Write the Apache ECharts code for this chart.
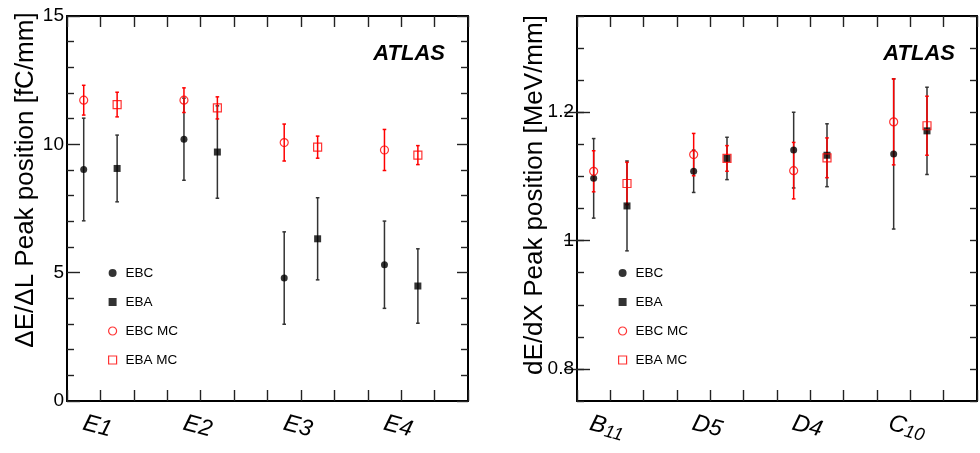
<!DOCTYPE html>
<html><head><meta charset="utf-8">
<script src="https://cdn.jsdelivr.net/npm/echarts@6/dist/echarts.min.js"></script>
<style>html,body{margin:0;padding:0;background:#fff}#c{width:980px;height:453px}</style>
</head><body><div id="c"></div>
<script>
// ---- data ----
const leftCats = ['E1', 'E2', 'E3', 'E4'];
const rightCats = ['B11', 'D5', 'D4', 'C10'];
const seriesNames = ['EBC', 'EBA', 'EBC MC', 'EBA MC'];

const ebcLeft = [9.02, 10.2, 4.79, 5.31];
const ebcLeftErr = [2.0, 1.6, 1.8, 1.7];
const ebaLeft = [9.06, 9.7, 6.32, 4.48];
const ebaLeftErr = [1.3, 1.8, 1.6, 1.45];
const ebcMcLeft = [11.72, 11.72, 10.07, 9.78];
const ebcMcLeftErr = [0.58, 0.48, 0.72, 0.8];
const ebaMcLeft = [11.55, 11.42, 9.89, 9.58];
const ebaMcLeftErr = [0.48, 0.43, 0.43, 0.37];

const ebcRight = [1.097, 1.108, 1.141, 1.135];
const ebcRightErr = [0.062, 0.033, 0.059, 0.117];
const ebaRight = [1.054, 1.128, 1.133, 1.171];
const ebaRightErr = [0.07, 0.033, 0.049, 0.068];
const ebcMcRight = [1.108, 1.134, 1.109, 1.185];
const ebcMcRightErr = [0.032, 0.033, 0.044, 0.067];
const ebaMcRight = [1.089, 1.128, 1.129, 1.179];
const ebaMcRightErr = [0.033, 0.02, 0.031, 0.046];

const leftYLabels = [0, 5, 10, 15];
const rightYLabels = [0.8, 1.0, 1.2];

// ---- chart ----
const chart = echarts.init(document.getElementById('c'), null, {renderer: 'canvas'});
const BLACK = '#000', RED = '#ff0000', BARBLACK = '#333';

// category i occupies 3 slots on the x scale; EBC at slot+0.5, EBA at slot+1.5
const xPos = (i, off) => 3 * i + off;

function errSeries(name, vals, errs, off, color, xi, yi, z) {
  return {
    type: 'custom', name: name + ' err', xAxisIndex: xi, yAxisIndex: yi, z: z,
    silent: true,
    data: vals.map((v, i) => [xPos(i, off), v - errs[i], v + errs[i]]),
    encode: {x: 0, y: [1, 2]},
    renderItem: function (params, api) {
      const x = api.value(0);
      const lo = api.coord([x, api.value(1)]);
      const hi = api.coord([x, api.value(2)]);
      const st = {stroke: color, lineWidth: 1.5};
      return {type: 'group', children: [
        {type: 'line', shape: {x1: lo[0], y1: lo[1], x2: hi[0], y2: hi[1]}, style: st},
        {type: 'line', shape: {x1: lo[0] - 1.8, y1: lo[1], x2: lo[0] + 1.8, y2: lo[1]}, style: st},
        {type: 'line', shape: {x1: hi[0] - 1.8, y1: hi[1], x2: hi[0] + 1.8, y2: hi[1]}, style: st}
      ]};
    }
  };
}
const markerStyles = {
  'EBC': {symbol: 'circle', symbolSize: 7, itemStyle: {color: BLACK}},
  'EBA': {symbol: 'rect', symbolSize: 7, itemStyle: {color: BLACK}},
  'EBC MC': {symbol: 'circle', symbolSize: 8, itemStyle: {color: 'rgba(255,255,255,0)', borderColor: RED, borderWidth: 1.2}},
  'EBA MC': {symbol: 'rect', symbolSize: 8, itemStyle: {color: 'rgba(255,255,255,0)', borderColor: RED, borderWidth: 1.2}}
};
function markSeries(name, vals, off, xi, yi, z) {
  const m = markerStyles[name];
  return Object.assign({
    type: 'scatter', name: name, xAxisIndex: xi, yAxisIndex: yi, z: z,
    data: vals.map((v, i) => [xPos(i, off), v])
  }, m);
}

function xLabelFormatter(cats, subscript) {
  return function (v) {
    const i = (v - 1) / 3;
    if (!Number.isInteger(i) || i < 0 || i >= cats.length) return '';
    const c = cats[i];
    return '{m|' + c[0] + '}{' + (subscript[i] ? 's' : 'n') + '|' + c.slice(1) + '}';
  };
}
const xRich = {
  m: {fontSize: 24, fontStyle: 'italic', fontFamily: 'Liberation Sans', color: '#000'},
  n: {fontSize: 23, fontStyle: 'italic', fontFamily: 'Liberation Sans', color: '#000'},
  s: {fontSize: 18, fontStyle: 'italic', fontFamily: 'Liberation Sans', color: '#000', padding: [8, 0, 0, 0]}
};

const lineSt = {show: true, onZero: false, lineStyle: {color: '#000', width: 2}};
const tickSt = (len, extra) => Object.assign({show: true, inside: true, length: len, lineStyle: {color: '#222', width: 1.4}}, extra || {});

function xAxes(grid, cats, sub) {
  return [
    {type: 'value', gridIndex: grid, position: 'bottom', min: 0, max: 12, interval: 1,
     axisLine: lineSt, axisTick: tickSt(11), splitLine: {show: false},
     axisLabel: {show: true, interval: 0, formatter: xLabelFormatter(cats, sub), rich: xRich,
       rotate: -15, align: 'center', verticalAlign: 'top', margin: 14, hideOverlap: false}},
    {type: 'value', gridIndex: grid, position: 'top', min: 0, max: 12, interval: 1,
     axisLine: lineSt, axisTick: tickSt(11), splitLine: {show: false}, axisLabel: {show: false}}
  ];
}
const yLabelStyle = {fontSize: 19, fontFamily: 'Liberation Sans', color: '#000', margin: 3};

const option = {
  animation: false,
  backgroundColor: '#fff',
  grid: [
    {left: 67, top: 16, right: 512, bottom: 52},
    {left: 577, top: 16, right: 3, bottom: 52}
  ],
  xAxis: [].concat(xAxes(0, leftCats, [false, false, false, false]), xAxes(1, rightCats, [true, false, false, true])),
  yAxis: [
    {type: 'value', gridIndex: 0, position: 'left', min: 0, max: 15, interval: 5,
     axisLine: lineSt, axisTick: tickSt(13), minorTick: {show: true, splitNumber: 5, length: 7, lineStyle: {color: '#222', width: 1.4}},
     splitLine: {show: false}, minorSplitLine: {show: false},
     axisLabel: Object.assign({show: true, customValues: leftYLabels}, yLabelStyle)},
    {type: 'value', gridIndex: 0, position: 'right', min: 0, max: 15, interval: 5,
     axisLine: lineSt, axisTick: tickSt(11), minorTick: {show: true, splitNumber: 5, length: 7, lineStyle: {color: '#222', width: 1.4}},
     splitLine: {show: false}, axisLabel: {show: false}},
    {type: 'value', gridIndex: 1, position: 'left', min: 0.75, max: 1.35, interval: 0.05,
     axisLine: lineSt, axisTick: tickSt(7), splitLine: {show: false},
     axisLabel: Object.assign({show: true, customValues: rightYLabels, formatter: v => String(+v.toFixed(2))}, yLabelStyle)},
    {type: 'value', gridIndex: 1, position: 'right', min: 0.75, max: 1.35, interval: 0.05,
     axisLine: lineSt, axisTick: tickSt(7), splitLine: {show: false}, axisLabel: {show: false}},
    {type: 'value', gridIndex: 1, position: 'left', min: 0.75, max: 1.35, interval: 0.05,
     axisLine: {show: false}, axisTick: tickSt(13, {customValues: rightYLabels}), splitLine: {show: false}, axisLabel: {show: false}},
    {type: 'value', gridIndex: 1, position: 'right', min: 0.75, max: 1.35, interval: 0.05,
     axisLine: {show: false}, axisTick: tickSt(13, {customValues: rightYLabels}), splitLine: {show: false}, axisLabel: {show: false}}
  ],
  legend: [0, 1].map(g => ({
    orient: 'vertical', left: g === 0 ? 103 : 613, top: 261, itemWidth: 8, itemHeight: 8, itemGap: 15,
    selectedMode: false,
    textStyle: {fontSize: 13.5, fontFamily: 'Liberation Sans', color: '#000', padding: [0, 0, 0, 4]},
    data: seriesNames.map(n => ({
      name: n, icon: markerStyles[n].symbol,
      itemStyle: markerStyles[n].itemStyle
    }))
  })),
  graphic: [
    {type: 'text', x: 26, y: 180, rotation: Math.PI / 2,
     style: {text: 'ΔE/ΔL Peak position [fC/mm]', font: '26px "Liberation Sans"', fill: '#000', align: 'center', verticalAlign: 'middle'}},
    {type: 'text', x: 535, y: 195, rotation: Math.PI / 2,
     style: {text: 'dE/dX Peak position [MeV/mm]', font: '26px "Liberation Sans"', fill: '#000', align: 'center', verticalAlign: 'middle'}},
    {type: 'text', x: 445, y: 54,
     style: {text: 'ATLAS', font: 'italic bold 22px "Liberation Sans"', fill: '#000', align: 'right', verticalAlign: 'middle'}},
    {type: 'text', x: 955, y: 54,
     style: {text: 'ATLAS', font: 'italic bold 22px "Liberation Sans"', fill: '#000', align: 'right', verticalAlign: 'middle'}}
  ],
  series: [
    errSeries('EBC', ebcLeft, ebcLeftErr, 0.5, BARBLACK, 0, 0, 2),
    errSeries('EBA', ebaLeft, ebaLeftErr, 1.5, BARBLACK, 0, 0, 2),
    errSeries('EBC MC', ebcMcLeft, ebcMcLeftErr, 0.5, RED, 0, 0, 3),
    errSeries('EBA MC', ebaMcLeft, ebaMcLeftErr, 1.5, RED, 0, 0, 3),
    markSeries('EBC', ebcLeft, 0.5, 0, 0, 4),
    markSeries('EBA', ebaLeft, 1.5, 0, 0, 4),
    markSeries('EBC MC', ebcMcLeft, 0.5, 0, 0, 5),
    markSeries('EBA MC', ebaMcLeft, 1.5, 0, 0, 5),

    errSeries('EBC', ebcRight, ebcRightErr, 0.5, BARBLACK, 2, 2, 2),
    errSeries('EBA', ebaRight, ebaRightErr, 1.5, BARBLACK, 2, 2, 2),
    errSeries('EBC MC', ebcMcRight, ebcMcRightErr, 0.5, RED, 2, 2, 3),
    errSeries('EBA MC', ebaMcRight, ebaMcRightErr, 1.5, RED, 2, 2, 3),
    markSeries('EBC', ebcRight, 0.5, 2, 2, 4),
    markSeries('EBA', ebaRight, 1.5, 2, 2, 4),
    markSeries('EBC MC', ebcMcRight, 0.5, 2, 2, 5),
    markSeries('EBA MC', ebaMcRight, 1.5, 2, 2, 5)
  ]
};
chart.setOption(option);
</script>
</body></html>
